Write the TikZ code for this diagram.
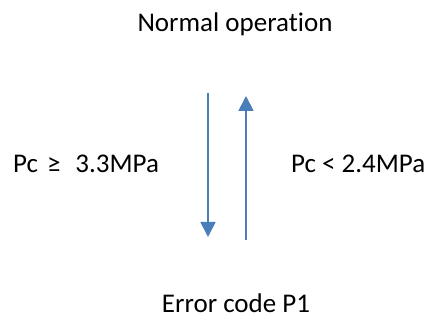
\documentclass[tikz,border=0pt]{standalone}
\usepackage{fontspec}
\setmainfont{Carlito}[Ligatures=NoCommon]
\usetikzlibrary{arrows.meta}
\definecolor{arrowblue}{HTML}{4A7EBB}
\tikzset{
  state/.style={inner sep=0pt,anchor=base,font=\fontsize{27}{32}\selectfont},
  flow/.style={arrowblue,line width=1.8pt,-{Triangle[width=15pt,length=15pt]}}
}

\begin{document}
\begin{tikzpicture}[x=1pt,y=1pt]
\useasboundingbox (0,0) rectangle (433,320);
\node[state] (normal) at (235,288) {Normal operation};
\node[state] (error) at (236,7) {Error code P1};
\node[state,anchor=base west] (high) at (13,147) {Pc\hspace{9pt}≥\hspace{15pt}3.3MPa};
\node[state,anchor=base west] (low) at (291,147) {Pc < 2.4MPa};
\coordinate (downtop) at (208,227);
\coordinate (downend) at (208,83);
\coordinate (upbot) at (246,80);
\coordinate (upend) at (246,224);
\draw[flow] (downtop) -- (downend);
\draw[flow] (upbot) -- (upend);
\end{tikzpicture}
\end{document}
